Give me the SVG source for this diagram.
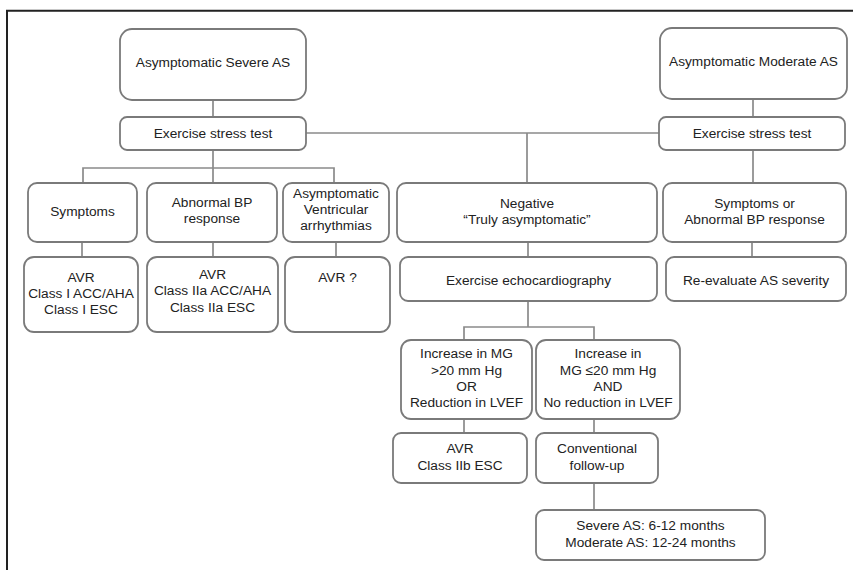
<svg xmlns="http://www.w3.org/2000/svg" width="853" height="570" viewBox="0 0 853 570">
<style>
.b{fill:#fff;stroke:#7a7a7a;stroke-width:1.8}
.c{fill:none;stroke:#8a8a8a;stroke-width:1.7}
text{font-family:"Liberation Sans",Arial,sans-serif;font-size:13.7px;fill:#222;text-anchor:middle}
</style>
<rect width="853" height="570" fill="#fff"/>
<path d="M7,570 V10.7 H853" fill="none" stroke="#222" stroke-width="2"/>
<g id="connectors">
<path class="c" d="M213,100 V117"/>
<path class="c" d="M306,133 H659"/>
<path class="c" d="M527,133 V183"/>
<path class="c" d="M753,99 V117"/>
<path class="c" d="M753,150 V183"/>
<path class="c" d="M213,150 V168 M83,183 V168 H334 V183 M213,168 V183"/>
<path class="c" d="M82,242 V257"/>
<path class="c" d="M213,242 V257"/>
<path class="c" d="M336,242 V257"/>
<path class="c" d="M528,242 V257"/>
<path class="c" d="M752,242 V257"/>
<path class="c" d="M528,301 V327 M464,340 V327 H594 V340"/>
<path class="c" d="M464,419 V433"/>
<path class="c" d="M594,419 V433"/>
<path class="c" d="M594,483 V510"/>
</g>
<g id="severe"><rect class="b" x="120" y="29" width="186" height="71" rx="12"/><text x="213" y="67">Asymptomatic Severe AS</text></g>
<g id="ext_left"><rect class="b" x="120" y="117" width="186" height="33" rx="7"/><text x="213" y="137.5">Exercise stress test</text></g>
<g id="moderate"><rect class="b" x="660" y="28" width="187" height="71" rx="12"/><text x="753.5" y="66">Asymptomatic Moderate AS</text></g>
<g id="ext_right"><rect class="b" x="659" y="117" width="186" height="33" rx="7"/><text x="752" y="137.5">Exercise stress test</text></g>
<g id="symptoms"><rect class="b" x="28" y="183" width="109" height="59" rx="9"/><text x="82.5" y="216">Symptoms</text></g>
<g id="abnbp"><rect class="b" x="147" y="183" width="130" height="59" rx="9"/><text x="212" y="207">Abnormal BP</text><text x="212" y="223">response</text></g>
<g id="ventric"><rect class="b" x="283" y="183" width="106" height="59" rx="9"/><text x="336" y="198">Asymptomatic</text><text x="336" y="214">Ventricular</text><text x="336" y="230">arrhythmias</text></g>
<g id="negative"><rect class="b" x="397" y="183" width="260" height="59" rx="9"/><text x="527" y="208">Negative</text><text x="527" y="223.5">“Truly asymptomatic”</text></g>
<g id="sympt_or"><rect class="b" x="663" y="183" width="183" height="59" rx="9"/><text x="754.5" y="208">Symptoms or</text><text x="754.5" y="223.5">Abnormal BP response</text></g>
<g id="avr1"><rect class="b" x="24" y="257" width="114" height="75" rx="10"/><text x="81" y="282">AVR</text><text x="81" y="298">Class I ACC/AHA</text><text x="81" y="314">Class I ESC</text></g>
<g id="avr2a"><rect class="b" x="147" y="257" width="131" height="75" rx="10"/><text x="212.5" y="279">AVR</text><text x="212.5" y="295">Class IIa ACC/AHA</text><text x="212.5" y="311.5">Class IIa ESC</text></g>
<g id="avrq"><rect class="b" x="285" y="257" width="105" height="75" rx="10"/><text x="337.5" y="282">AVR ?</text></g>
<g id="echo"><rect class="b" x="400" y="257" width="257" height="44" rx="8"/><text x="528.5" y="284.5">Exercise echocardiography</text></g>
<g id="reeval"><rect class="b" x="666" y="257" width="180" height="44" rx="8"/><text x="756" y="284.5">Re-evaluate AS severity</text></g>
<g id="inc_gt"><rect class="b" x="401" y="340" width="131" height="79" rx="10"/><text x="466.5" y="358">Increase in MG</text><text x="466.5" y="374.5">&gt;20 mm Hg</text><text x="466.5" y="391">OR</text><text x="466.5" y="407">Reduction in LVEF</text></g>
<g id="inc_le"><rect class="b" x="536" y="340" width="144" height="79" rx="10"/><text x="608" y="358">Increase in</text><text x="608" y="374.5">MG ≤20 mm Hg</text><text x="608" y="391">AND</text><text x="608" y="407">No reduction in LVEF</text></g>
<g id="avr2b"><rect class="b" x="393" y="433" width="134" height="50" rx="8"/><text x="460" y="453">AVR</text><text x="460" y="469.5">Class IIb ESC</text></g>
<g id="conv"><rect class="b" x="536" y="433" width="122" height="50" rx="8"/><text x="597" y="453">Conventional</text><text x="597" y="469.5">follow-up</text></g>
<g id="followup"><rect class="b" x="536" y="510" width="229" height="50" rx="8"/><text x="650.5" y="530">Severe AS: 6-12 months</text><text x="650.5" y="547">Moderate AS: 12-24 months</text></g>
</svg>
